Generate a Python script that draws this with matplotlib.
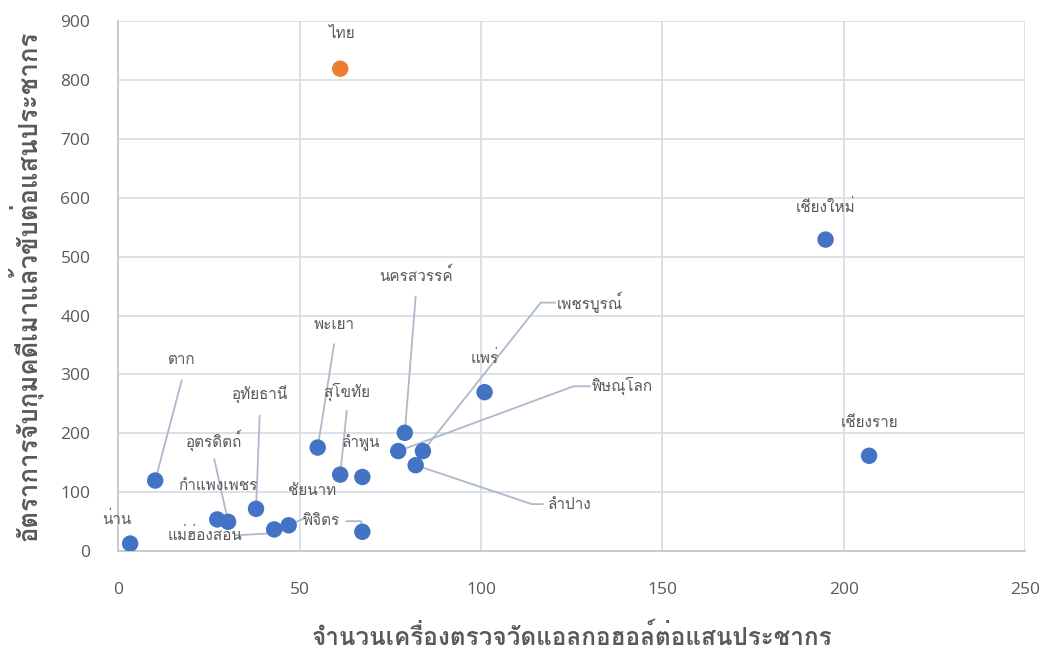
import matplotlib
matplotlib.use("Agg")
import matplotlib.pyplot as plt
from matplotlib import font_manager
from matplotlib.ft2font import FT2Font

# หาฟอนต์ที่มีอักษรไทย
def find_thai_font():
    names = []
    for f in font_manager.fontManager.ttflist:
        try:
            cmap = FT2Font(f.fname).get_charmap()
        except Exception:
            continue
        if 0x0E01 in cmap and 0x0E33 in cmap and f.name not in names:
            names.append(f.name)
    return names

thai_fonts = find_thai_font()
plt.rcParams['font.family'] = thai_fonts + ['DejaVu Sans']

# ข้อมูล
provinces = ['น่าน', 'ตาก', 'กำแพงเพชร', 'อุตรดิตถ์', 'อุทัยธานี', 'แม่ฮ่องสอน',
             'ชัยนาท', 'พิจิตร', 'พะเยา', 'สุโขทัย', 'ลำพูน', 'นครสวรรค์',
             'พิษณุโลก', 'เพชรบูรณ์', 'ลำปาง', 'แพร่', 'เชียงใหม่', 'เชียงราย', 'ไทย']
breathalyzers = [3.3, 10.2, 27.3, 30.3, 38, 43, 47, 67.3, 55, 61.2, 67.3, 79,
                 77.2, 84, 82, 101, 195, 207, 61.2]
drunk_arrests = [13, 120, 54, 50, 72, 37, 44, 33, 176, 130, 126, 201,
                 170, 170, 146, 270, 529, 162, 819]
xticks = [0, 50, 100, 150, 200, 250]
yticks = [0, 100, 200, 300, 400, 500, 600, 700, 800, 900]

# ตำแหน่งป้าย และเส้นโยง (หน่วยข้อมูล)
label_pos = {
    'น่าน': (-0.5, 55), 'ตาก': (17.5, 325), 'กำแพงเพชร': (27.5, 111),
    'อุตรดิตถ์': (26.5, 189), 'อุทัยธานี': (39, 266), 'แม่ฮ่องสอน': (24, 27),
    'ชัยนาท': (53.5, 102), 'พิจิตร': (56, 51), 'พะเยา': (59.5, 384),
    'สุโขทัย': (63, 271), 'ลำพูน': (67, 184), 'นครสวรรค์': (82, 468),
    'พิษณุโลก': (139, 280), 'เพชรบูรณ์': (130, 422), 'ลำปาง': (124.5, 79),
    'แพร่': (101, 328), 'เชียงใหม่': (195, 585), 'เชียงราย': (207, 218),
    'ไทย': (61.5, 878),
}
leaders = {
    'ตาก': [(17.5, 290)], 'อุตรดิตถ์': [(26.5, 156)], 'อุทัยธานี': [(39, 230)],
    'แม่ฮ่องสอน': [(32.5, 27), (41, 30)], 'ชัยนาท': [(51, 55)],
    'พิจิตร': [(63, 51), (67, 51)], 'พะเยา': [(59.5, 351)],
    'สุโขทัย': [(63, 238)], 'นครสวรรค์': [(82, 432)],
    'พิษณุโลก': [(130, 280), (125.5, 280)], 'เพชรบูรณ์': [(120.5, 422), (116.5, 422)],
    'ลำปาง': [(117, 80), (114, 80)],
}

fig = plt.figure(figsize=(10.46, 6.57), dpi=100)
ax = fig.add_axes([0.113, 0.161, 0.867, 0.807])

grid_c = '#D9DEE7'
for i, name in enumerate(provinces):
    if name in leaders:
        pts = leaders[name] + [(breathalyzers[i], drunk_arrests[i])]
        ax.plot([p[0] for p in pts], [p[1] for p in pts], color='#ADB9CA', lw=1.3, zorder=2)

colors = ['#ED7D31' if p == 'ไทย' else '#4472C4' for p in provinces]
ax.scatter(breathalyzers, drunk_arrests, s=140, c=colors, edgecolors='none', zorder=3)

for i, name in enumerate(provinces):
    tx, ty = label_pos[name]
    ax.text(tx, ty, name, fontsize=11, color='#595959', ha='center', va='center', zorder=4)

ax.set_xlim(0, 250)
ax.set_ylim(0, 900)
ax.set_xticks(xticks)
ax.set_yticks(yticks)
ax.grid(True, color=grid_c, lw=1.3)
ax.set_axisbelow(True)
for s in ['top', 'right']:
    ax.spines[s].set_visible(False)
for s in ['left', 'bottom']:
    ax.spines[s].set_color('#BFC8D6')
    ax.spines[s].set_linewidth(1.3)
ax.tick_params(length=0, labelsize=12.5, labelcolor='#595959', pad=20)
ax.tick_params(axis='x', pad=22)
for lbl in ax.get_xticklabels() + ax.get_yticklabels():
    lbl.set_fontfamily(['Open Sans', 'DejaVu Sans'])

ax.set_xlabel('จำนวนเครื่องตรวจวัดแอลกอฮอล์ต่อแสนประชากร', fontsize=17.5,
              fontweight='bold', color='#595959', labelpad=19)
ax.set_ylabel('อัตราการจับกุมคดีเมาแล้วขับต่อแสนประชากร', fontsize=18.5,
              fontweight='bold', color='#595959', labelpad=12)

fig.savefig('out.png', dpi=100)
